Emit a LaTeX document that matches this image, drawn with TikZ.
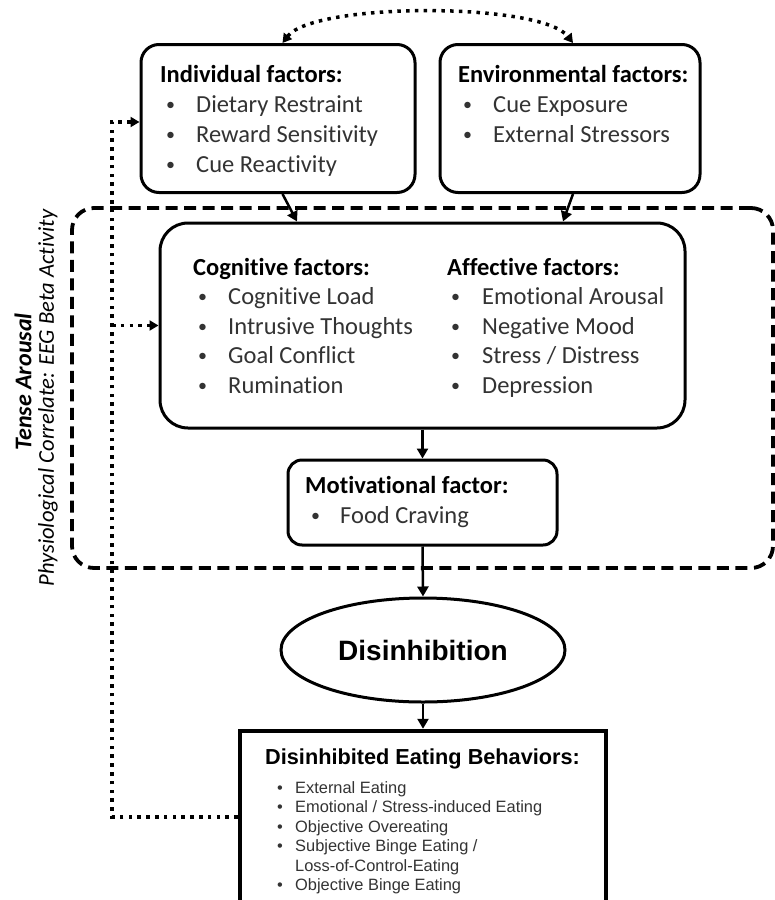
\documentclass[tikz,border=0pt]{standalone}
\usepackage{fontspec}
\setmainfont{Carlito}[Ligatures=NoCommon]
\newfontfamily\arialf{Liberation Sans}
\usetikzlibrary{arrows.meta,shapes.geometric,calc}
\definecolor{txt}{gray}{0.2}
\begin{document}
\begin{tikzpicture}[x=1pt,y=-1pt,
  box/.style={draw, line width=3pt, rounded corners=18pt, inner sep=0pt},
  regionbox/.style={draw, line width=3.8pt, dash pattern=on 12pt off 6.5pt, rounded corners=22pt, inner sep=0pt},
  hdr/.style={anchor=base west, inner sep=0pt, font=\fontsize{24.5}{30}\selectfont\bfseries},
  itm/.style={anchor=base west, inner sep=0pt, text=txt, font=\fontsize{24.5}{30}\selectfont},
  bul/.style={anchor=base west, inner sep=0pt, text=txt, font=\fontsize{18}{30}\selectfont},
  bhdr/.style={anchor=base west, inner sep=0pt, font=\arialf\fontsize{21.7}{26}\selectfont\bfseries},
  bitm/.style={anchor=base west, inner sep=0pt, text=txt, font=\arialf\fontsize{16.4}{19.6}\selectfont},
  arr/.style={line width=2.5pt, -{Triangle[length=10pt,width=11pt]}},
  dotline/.style={line width=3.5pt, dash pattern=on 3.5pt off 5.3pt},
  dtip/.tip={Triangle[length=9pt,width=10pt]}
]
\clip (0,0) rectangle (775,900);
\fill[white] (0,0) rectangle (775,900);

% dashed region
\node[regionbox, minimum width=701pt, minimum height=360pt] (reg) at (422.5,388) {};

% boxes
\node[box, minimum width=274pt, minimum height=148pt] (ind) at (278,118.5) {};
\node[box, minimum width=260pt, minimum height=148pt] (env) at (570,118.5) {};
\node[box, rounded corners=28pt, minimum width=525pt, minimum height=205pt] (cog) at (422.5,325.5) {};
\node[box, rounded corners=14pt, minimum width=269pt, minimum height=85pt] (mot) at (422.5,502.5) {};
\node[draw, ellipse, line width=3pt, minimum width=284pt, minimum height=104pt, inner sep=0pt,
      font=\arialf\fontsize{28}{32}\selectfont\bfseries] (dis) at (423,650) {Disinhibition};
\node[draw, line width=4.5pt, minimum width=366pt, minimum height=172pt, inner sep=0pt] (beh) at (423,817) {};

% Individual factors
\node[hdr] (indh) at (160,82) {Individual factors:};
\foreach \t [count=\i] in {Dietary Restraint, Reward Sensitivity, Cue Reactivity}{
  \node[bul] (indb\i) at (166,{80+30*\i}) {•};
  \node[itm] (indi\i) at (196,{82+30*\i}) {\t};
}
% Environmental factors
\node[hdr] (envh) at (458,82) {Environmental factors:};
\foreach \t [count=\i] in {Cue Exposure, External Stressors}{
  \node[bul] (envb\i) at (463,{80+30*\i}) {•};
  \node[itm] (envi\i) at (493,{82+30*\i}) {\t};
}
% Cognitive factors
\node[hdr] (cogh) at (193,275) {Cognitive factors:};
\foreach \t [count=\i] in {Cognitive Load, Intrusive Thoughts, Goal Conflict, Rumination}{
  \node[bul] (cogb\i) at (198,{273+29.5*\i}) {•};
  \node[itm] (cogi\i) at (228,{275+29.5*\i}) {\t};
}
% Affective factors
\node[hdr] (affh) at (447,275) {Affective factors:};
\foreach \t [count=\i] in {Emotional Arousal, Negative Mood, Stress / Distress, Depression}{
  \node[bul] (affb\i) at (451,{273+29.5*\i}) {•};
  \node[itm] (affi\i) at (482,{275+29.5*\i}) {\t};
}
% Motivational factor
\node[hdr] (moth) at (305,493) {Motivational factor:};
\node[bul] (motb1) at (311,521) {•};
\node[itm] (moti1) at (340,523) {Food Craving};

% Disinhibited eating behaviors
\node[bhdr] (behh) at (265,764) {Disinhibited Eating Behaviors:};
\node[bitm] (behb1) at (277,793) {•};
\node[bitm] (behi1) at (295,793) {External Eating};
\node[bitm] (behb2) at (277,812.5) {•};
\node[bitm] (behi2) at (295,812.5) {Emotional / Stress-induced Eating};
\node[bitm] (behb3) at (277,832) {•};
\node[bitm] (behi3) at (295,832) {Objective Overeating};
\node[bitm] (behb4) at (277,851.5) {•};
\node[bitm] (behi4) at (295,851.5) {Subjective Binge Eating /};
\node[bitm] (behi5) at (295,871) {Loss-of-Control-Eating};
\node[bitm] (behb6) at (277,890.5) {•};
\node[bitm] (behi6) at (295,890.5) {Objective Binge Eating};

% side labels
\node[rotate=90, inner sep=0pt, font=\fontsize{24}{28}\selectfont\bfseries\itshape] (tense) at (23,382) {Tense Arousal};
\node[rotate=90, inner sep=0pt, font=\fontsize{22.6}{26}\selectfont\itshape] (phys) at (48,398) {Physiological Correlate: EEG Beta Activity};

% solid arrows
\draw[arr] ([xshift=4.5pt]ind.south) -- ([xshift=-125.5pt]cog.north);
\draw[arr] ([xshift=3pt]env.south) -- ([xshift=140.5pt]cog.north);
\draw[arr] (cog.south) -- (mot.north);
\draw[arr] (mot.south) -- (dis.north);
\draw[arr] (dis.south) -- (beh.north);

% dotted arrows
\draw[dotline, dtip-dtip] ([xshift=4.5pt]ind.north) .. controls (314,2) and (541,2) .. ([xshift=3pt]env.north);
\coordinate (fb) at (112,817);
\coordinate (ft) at (112,122);
\draw[dotline, -dtip] (beh.west) -- (fb) -- (ft) -- (ft -| ind.west);
\draw[dotline, -dtip] (fb |- cog.west) -- (cog.west);
\end{tikzpicture}
\end{document}
